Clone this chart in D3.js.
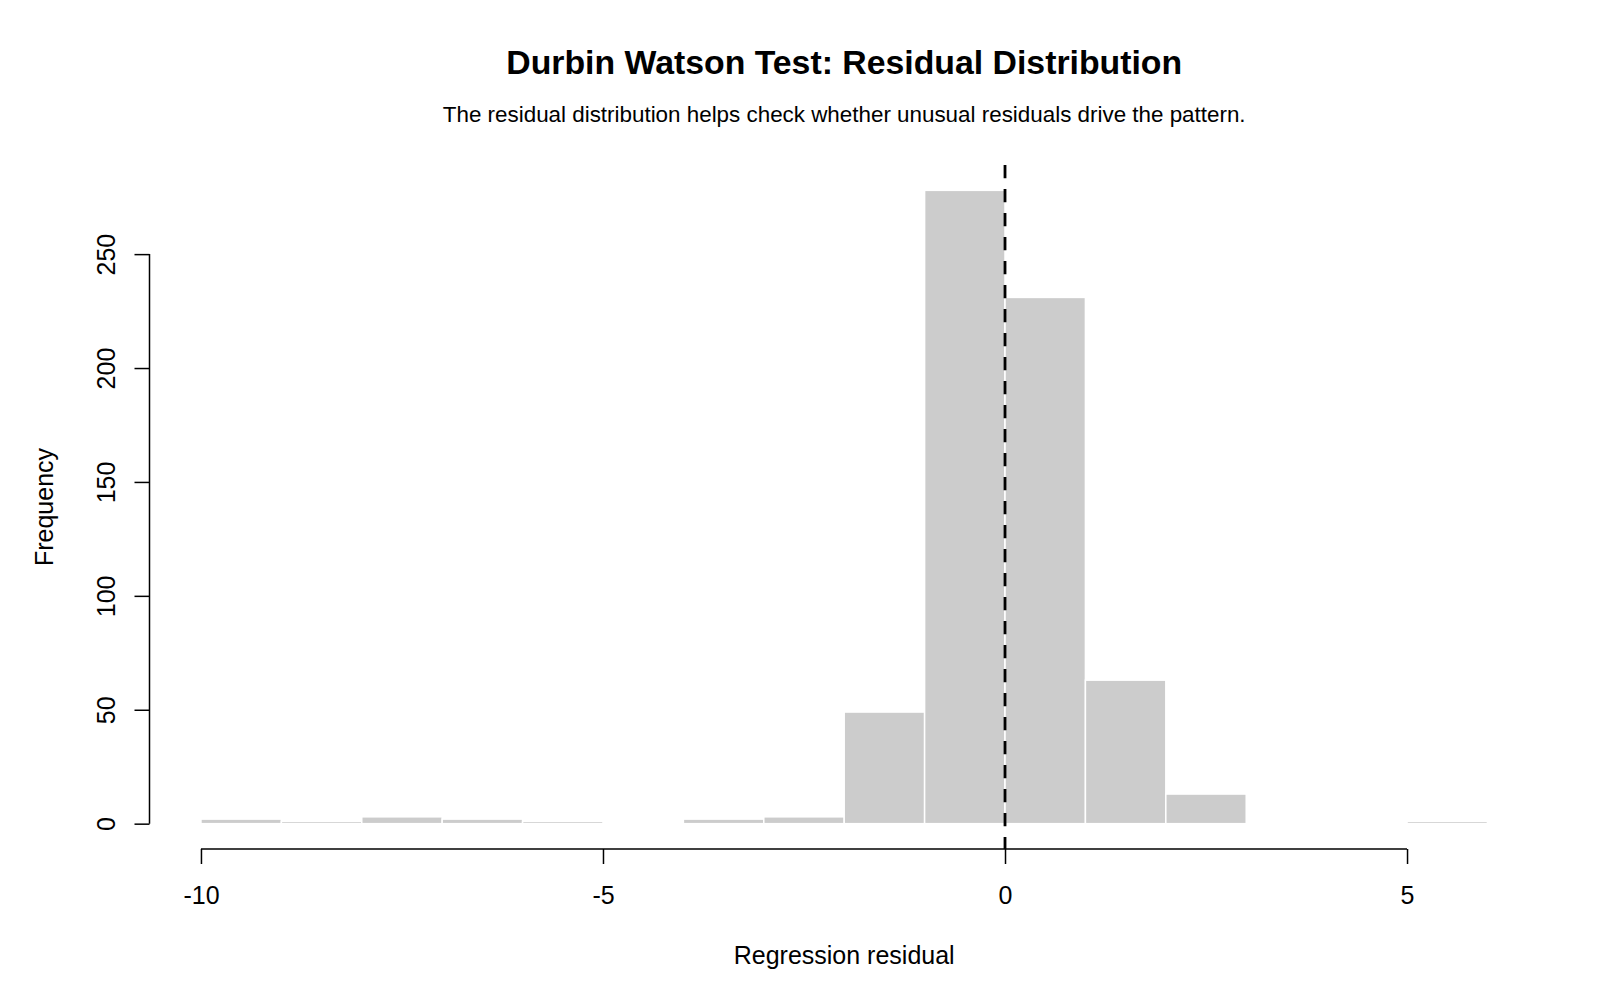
<!DOCTYPE html>
<html>
<head>
<meta charset="utf-8">
<script src="https://cdn.jsdelivr.net/npm/d3@7"></script>
<style>
  body { margin: 0; background: #ffffff; }
  svg text { font-family: "Liberation Sans", Arial, sans-serif; fill: #000; }
</style>
</head>
<body>
<div id="chart"></div>
<script>
// histogram data: bin edges and counts per bin
var breaks = [-10, -9, -8, -7, -6, -5, -4, -3, -2, -1, 0, 1, 2, 3, 4, 5, 6];
var counts = [2, 1, 3, 2, 1, 0, 2, 3, 49, 278, 231, 63, 13, 0, 0, 1];
var xTicks = [-10, -5, 0, 5];
var yTicks = [0, 50, 100, 150, 200, 250];

var titleText = "Durbin Watson Test: Residual Distribution";
var subtitleText = "The residual distribution helps check whether unusual residuals drive the pattern.";

var svgWidth = 1600;
var svgHeight = 1000;

// plot region (R style, axes extended 4%)
var plotLeft = 149.5;
var plotRight = 1538.9;
var plotTop = 165;
var plotBottom = 849;

var svg = d3.select("#chart")
  .append("svg")
  .attr("width", svgWidth)
  .attr("height", svgHeight);

var xMin = d3.min(breaks), xMax = d3.max(breaks);
var xPad = (xMax - xMin) * 0.04;
var xScale = d3.scaleLinear()
  .domain([xMin - xPad, xMax + xPad])
  .range([plotLeft, plotRight]);

var yMax = d3.max(counts);
var yPad = yMax * 0.04;
var yScale = d3.scaleLinear()
  .domain([-yPad, yMax + yPad])
  .range([plotBottom, plotTop]);

var bins = counts.map(function(c, i) {
  return { x0: breaks[i], x1: breaks[i + 1], n: c };
});

// bars
svg.append("g")
  .selectAll("rect")
  .data(bins)
  .enter()
  .append("rect")
  .attr("x", function(d) { return xScale(d.x0); })
  .attr("width", function(d) { return xScale(d.x1) - xScale(d.x0); })
  .attr("y", function(d) { return yScale(d.n); })
  .attr("height", function(d) { return yScale(0) - yScale(d.n); })
  .attr("fill", "#cccccc")
  .attr("stroke", "#ffffff")
  .attr("stroke-width", 1.5);

// reference line at zero
svg.append("line")
  .attr("x1", xScale(0))
  .attr("x2", xScale(0))
  .attr("y1", plotTop)
  .attr("y2", plotBottom)
  .attr("stroke", "#000")
  .attr("stroke-width", 2.8)
  .attr("stroke-dasharray", "13.3,10.7");

// x axis
var xAxis = d3.axisBottom(xScale)
  .tickValues(xTicks)
  .tickSize(15)
  .tickSizeOuter(0)
  .tickPadding(0)
  .tickFormat(d3.format("d"));

var gx = svg.append("g")
  .attr("transform", "translate(0," + plotBottom + ")")
  .call(xAxis);
gx.select(".domain").remove();
gx.append("line")
  .attr("x1", xScale(xTicks[0]))
  .attr("x2", xScale(xTicks[xTicks.length - 1]))
  .attr("stroke", "#000")
  .attr("stroke-width", 1.5);
gx.selectAll(".tick line").attr("stroke", "#000").attr("stroke-width", 1.5);
gx.selectAll(".tick text")
  .attr("y", 55)
  .attr("dy", null)
  .style("font-size", "25px")
  .style("font-family", "'Liberation Sans', Arial, sans-serif")
  .text(function(d) { return d < 0 ? "-" + Math.abs(d) : d; });

// y axis
var yAxis = d3.axisLeft(yScale)
  .tickValues(yTicks)
  .tickSize(15)
  .tickSizeOuter(0)
  .tickFormat(d3.format("d"));

var gy = svg.append("g")
  .attr("transform", "translate(" + plotLeft + ",0)")
  .call(yAxis);
gy.select(".domain").remove();
gy.append("line")
  .attr("y1", yScale(yTicks[0]))
  .attr("y2", yScale(yTicks[yTicks.length - 1]))
  .attr("stroke", "#000")
  .attr("stroke-width", 1.5);
gy.selectAll(".tick line").attr("stroke", "#000").attr("stroke-width", 1.5);
gy.selectAll(".tick text")
  .attr("x", null)
  .attr("dy", null)
  .attr("transform", "translate(-35,0) rotate(-90)")
  .attr("text-anchor", "middle")
  .style("font-size", "25px")
  .style("font-family", "'Liberation Sans', Arial, sans-serif");

// titles and axis labels
var midX = (plotLeft + plotRight) / 2;

svg.append("text")
  .attr("x", midX)
  .attr("y", 74)
  .attr("text-anchor", "middle")
  .style("font-size", "33.8px")
  .style("font-weight", "bold")
  .text(titleText);

svg.append("text")
  .attr("x", midX)
  .attr("y", 122)
  .attr("text-anchor", "middle")
  .style("font-size", "22.4px")
  .text(subtitleText);

svg.append("text")
  .attr("x", midX)
  .attr("y", 964)
  .attr("text-anchor", "middle")
  .style("font-size", "25px")
  .text("Regression residual");

svg.append("text")
  .attr("transform", "translate(53," + ((plotTop + plotBottom) / 2) + ") rotate(-90)")
  .attr("text-anchor", "middle")
  .style("font-size", "25px")
  .text("Frequency");
</script>
</body>
</html>
